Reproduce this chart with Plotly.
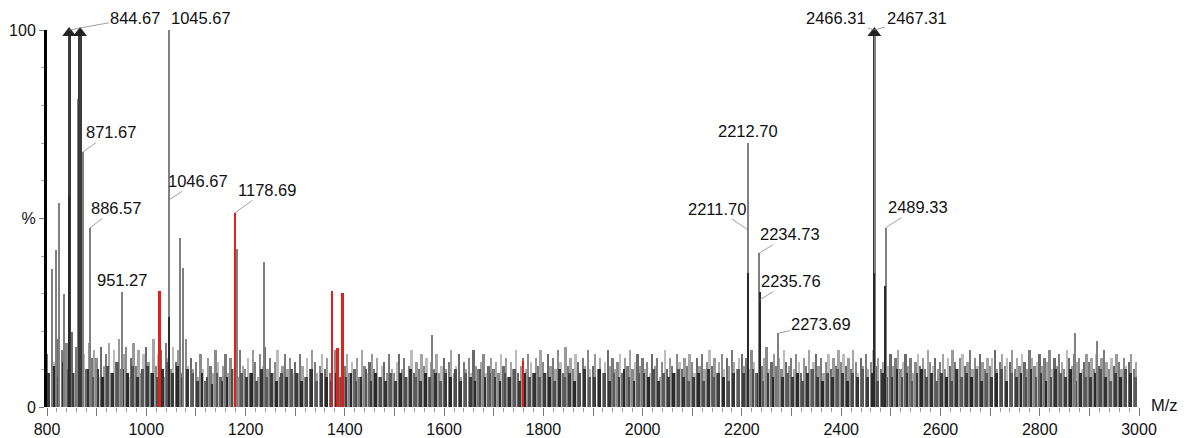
import plotly.graph_objects as go

# ---------------- data ----------------
# background noise heights (%), one value every 5 m/z from 800 to 2995
noise_start, noise_step = 800, 5
noise_pct = [
    14, 9, 16, 12, 18, 7, 15, 11, 17, 13, 20, 9, 16, 12, 19, 14, 10, 17, 13, 15,
    13, 8, 16, 11, 14, 17, 9, 15, 12, 18, 10, 14, 16, 8, 13, 17, 11, 15, 9, 14,
    16, 12, 9, 18, 11, 14, 15, 8, 17, 13, 10, 16, 12, 15, 9, 14, 18, 11, 13, 10,
    12, 8, 14, 10, 7, 13, 11, 9, 15, 12, 8, 11, 14, 9, 13, 10, 12, 8, 15, 11,
    10, 13, 9, 15, 12, 8, 14, 11, 16, 10, 13, 9, 12, 15, 8, 11, 14, 10, 13, 9,
    12, 9, 14, 11, 8, 13, 10, 15, 12, 9, 11, 14, 10, 13, 9, 12, 15, 10, 8, 13,
    11, 14, 9, 12, 10, 13, 8, 15, 11, 9, 12, 14, 10, 13, 8, 11, 12, 9, 14, 10,
    9, 12, 14, 10, 13, 8, 11, 15, 9, 12, 10, 14, 11, 13, 8, 12, 10, 14, 9, 11,
    13, 10, 12, 15, 9, 11, 14, 8, 12, 10, 13, 9, 15, 11, 10, 12, 14, 9, 11, 13,
    10, 12, 9, 14, 11, 13, 8, 12, 10, 15, 9, 11, 13, 10, 14, 12, 9, 13, 11, 15,
    12, 9, 14, 11, 13, 10, 15, 12, 9, 16, 11, 13, 10, 14, 12, 9, 13, 11, 15, 10,
    11, 14, 10, 13, 9, 12, 15, 11, 13, 10, 12, 14, 9, 13, 11, 15, 10, 12, 14, 11,
    13, 10, 12, 9, 14, 11, 13, 8, 12, 15, 10, 13, 11, 9, 14, 12, 10, 13, 11, 14,
    12, 9, 13, 11, 14, 10, 12, 15, 11, 13, 9, 12, 14, 10, 13, 11, 15, 12, 10, 13,
    14, 11, 13, 10, 15, 12, 9, 14, 11, 13, 16, 10, 12, 14, 11, 13, 10, 15, 12, 11,
    13, 10, 14, 12, 9, 13, 11, 15, 10, 12, 14, 11, 13, 9, 12, 14, 10, 13, 11, 15,
    12, 14, 11, 13, 10, 15, 12, 9, 13, 11, 14, 10, 12, 15, 11, 13, 10, 12, 14, 11,
    14, 11, 13, 15, 10, 12, 14, 11, 13, 9, 12, 14, 11, 13, 10, 15, 12, 11, 13, 10,
    12, 14, 10, 13, 11, 15, 12, 10, 13, 14, 11, 12, 15, 10, 13, 11, 14, 12, 10, 13,
    11, 13, 15, 10, 12, 14, 11, 13, 12, 15, 10, 13, 11, 14, 12, 10, 15, 13, 11, 12,
    14, 11, 13, 12, 15, 10, 13, 11, 14, 12, 10, 15, 13, 11, 14, 12, 13, 10, 12, 14,
    12, 13, 10, 14, 11, 13, 15, 12, 10, 13, 11, 14, 12, 10, 13, 11, 12, 14, 10, 12,
]
noise_mz = [noise_start + noise_step * i for i in range(len(noise_pct))]

# dense dark base of the noise band (%), one value every 10 m/z from 802.5
base_start, base_step = 802.5, 10
base_pct = [
    9, 11, 8, 12, 10, 9, 11, 13, 10, 8,
    10, 8, 11, 9, 12, 10, 9, 11, 8, 10,
    11, 9, 8, 10, 12, 9, 11, 8, 10, 9,
    7, 9, 8, 6, 9, 7, 8, 10, 7, 9,
    8, 9, 7, 10, 8, 9, 7, 9, 8, 10,
    9, 7, 8, 10, 7, 9, 8, 7, 9, 8,
    8, 9, 7, 8, 10, 7, 9, 8, 7, 9,
    7, 9, 8, 10, 8, 7, 9, 8, 9, 7,
    9, 8, 10, 7, 9, 8, 7, 10, 8, 9,
    8, 7, 9, 8, 10, 7, 9, 8, 9, 8,
    9, 8, 7, 10, 8, 9, 7, 9, 10, 8,
    8, 10, 9, 7, 9, 8, 10, 8, 7, 9,
    9, 8, 10, 7, 9, 8, 9, 10, 8, 7,
    8, 9, 7, 10, 8, 9, 8, 7, 9, 10,
    9, 8, 10, 9, 7, 9, 8, 10, 8, 9,
    8, 9, 7, 9, 10, 8, 7, 9, 8, 10,
    9, 7, 9, 8, 10, 8, 9, 7, 9, 8,
    8, 10, 8, 9, 7, 9, 10, 8, 9, 7,
    9, 8, 7, 10, 8, 9, 8, 10, 7, 9,
    8, 9, 10, 7, 9, 8, 9, 8, 10, 8,
    9, 7, 8, 10, 9, 8, 10, 7, 9, 8,
    8, 9, 10, 8, 7, 9, 8, 10, 9, 8,
]
base_mz = [base_start + base_step * i for i in range(len(base_pct))]

# prominent grey peaks
peak_mz = [810, 818, 825, 835, 844.67, 861.5, 866.67, 871.67, 886.57, 951.27,
           1045.67, 1068, 1074, 1182, 1237, 1575, 2211.70, 2212.70, 2234.73,
           2235.76, 2273.69, 2466.31, 2467.31, 2489.33, 2872, 2916]
peak_pct = [36.6, 41.6, 54.0, 30.0, 100, 81.7, 100, 67.6, 47.5, 30.5,
            100, 44.8, 36.8, 42.0, 38.4, 19.0, 47.0, 70.0, 40.8,
            30.5, 19.6, 100, 100, 47.5, 19.6, 17.5]
peak_w = [2, 2, 2, 2, 6, 2, 9, 2, 2, 2,
          2, 2, 2, 2, 2, 2, 2, 2, 2,
          2, 2, 5, 2, 2, 2, 2]

# darker lower parts of the main peaks
core_mz = [844.67, 1045.67, 2212.70, 2235.76, 2466.81, 2489.33]
core_pct = [56.0, 24.0, 35.5, 30.5, 35.5, 32.0]

# highlighted (red) peaks
red_mz = [1027, 1178.69, 1373.7, 1385, 1395.6, 1759]
red_pct = [30.8, 51.5, 30.8, 15.6, 30.2, 12.2]

# capped (saturated) peaks
cap_mz = [844.67, 866.67, 2466.81]
cap_pct = [99.2, 99.2, 99.2]

# peak labels: (m/z, %, text, ax, ay)
labels = [
    (844.67, 100, "844.67", 66, -12),
    (871.67, 67.6, "871.67", 28, -20),
    (886.57, 47.5, "886.57", 26, -20),
    (2211.70, 47.0, "2211.70", -31, -21),
    (2234.73, 40.8, "2234.73", 31, -19),
    (2235.76, 28.4, "2235.76", 31, -19),
    (2273.69, 19.6, "2273.69", 43, -9),
    (2489.33, 47.5, "2489.33", 32, -21),
    (1046.67, 55.0, "1046.67", 29, -19),
    (1178.69, 51.5, "1178.69", 32, -23),
    (2466.31, 100, "2466.31", -38, -12),
    (2467.31, 100, "2467.31", 42, -12),
]
plain_labels = [
    (1045.67, 100, "1045.67", "left"),
    (951.27, 30.5, "951.27", "center"),
    (2212.70, 70.0, "2212.70", "center"),
]

# ---------------- figure ----------------
FONT = "Liberation Sans, Arial, sans-serif"
light_pal = ["#7a7a7a", "#a5a5a5", "#8a8a8a", "#bcbcbc", "#6a6a6a", "#999999"]
dark_pal = ["#3c3c3c", "#2a2a2a", "#4e4e4e", "#333333", "#5a5a5a"]
noise_colors = [light_pal[i % len(light_pal)] for i in range(len(noise_pct))]
base_colors = [dark_pal[i % len(dark_pal)] for i in range(len(base_pct))]
peak_colors = ["#3a3a3a" if w > 2 else "#808080" for w in peak_w]

fig = go.Figure()
fig.add_trace(go.Bar(x=noise_mz, y=noise_pct, width=3.6,
                     marker=dict(color=noise_colors, line=dict(width=0)),
                     hoverinfo="skip", showlegend=False))
fig.add_trace(go.Bar(x=base_mz, y=base_pct, width=5.5,
                     marker=dict(color=base_colors, line=dict(width=0)),
                     hoverinfo="skip", showlegend=False))
fig.add_trace(go.Bar(x=peak_mz, y=peak_pct, width=peak_w,
                     marker=dict(color=peak_colors, line=dict(width=0)),
                     showlegend=False))
fig.add_trace(go.Bar(x=core_mz, y=core_pct, width=2.4,
                     marker=dict(color="#2a2a2a", line=dict(width=0)),
                     showlegend=False))
fig.add_trace(go.Bar(x=red_mz, y=red_pct, width=5,
                     marker=dict(color="#e0201b", line=dict(width=0)),
                     showlegend=False))
fig.add_trace(go.Scatter(x=cap_mz, y=cap_pct, mode="markers",
                         marker=dict(symbol="triangle-up", size=12, color="#222222"),
                         cliponaxis=False, showlegend=False))

for mz, pct, txt, ax, ay in labels:
    fig.add_annotation(x=mz, y=pct, text=txt, showarrow=True, arrowhead=0,
                       arrowwidth=0.8, arrowcolor="#888888", ax=ax, ay=ay,
                       font=dict(family=FONT, size=16.5, color="#111111"))
for mz, pct, txt, xa in plain_labels:
    fig.add_annotation(x=mz, y=pct, text=txt, showarrow=False,
                       xanchor=xa, yanchor="bottom", yshift=1,
                       font=dict(family=FONT, size=16.5, color="#111111"))
fig.add_annotation(x=3000, y=0, text="M/z", showarrow=False, xanchor="left",
                   yanchor="middle", xshift=10, yshift=2,
                   font=dict(family=FONT, size=16.5, color="#111111"))

# the page body adds an 8 px margin, so the figure is sized/offset to compensate
fig.update_layout(
    width=1178, height=430,
    margin=dict(l=39, r=47, t=22, b=31, autoexpand=False),
    paper_bgcolor="white", plot_bgcolor="white",
    barmode="overlay", bargap=0,
    font=dict(family=FONT, size=16, color="#111111"),
)
fig.update_xaxes(range=[800, 3000], showgrid=False, zeroline=False, showline=False,
                 automargin=False,
                 tickmode="array",
                 tickvals=list(range(800, 3001, 100)),
                 ticktext=[str(v) if v % 200 == 0 else "" for v in range(800, 3001, 100)],
                 ticks="outside", ticklen=8, tickcolor="#777777", tickwidth=1,
                 minor=dict(dtick=20, ticks="outside", ticklen=4, tickcolor="#999999"),
                 tickfont=dict(family=FONT, size=16))
fig.update_yaxes(range=[0, 100], showgrid=False, zeroline=False,
                 automargin=False,
                 showline=True, linewidth=3, linecolor="#000000",
                 tickmode="array", tickvals=[0, 50, 100], ticktext=["0", "%", "100"],
                 ticks="outside", ticklen=5, tickcolor="#777777",
                 minor=dict(dtick=10, ticks="outside", ticklen=3, tickcolor="#aaaaaa"),
                 tickfont=dict(family=FONT, size=16))

fig.write_html("out.html")
